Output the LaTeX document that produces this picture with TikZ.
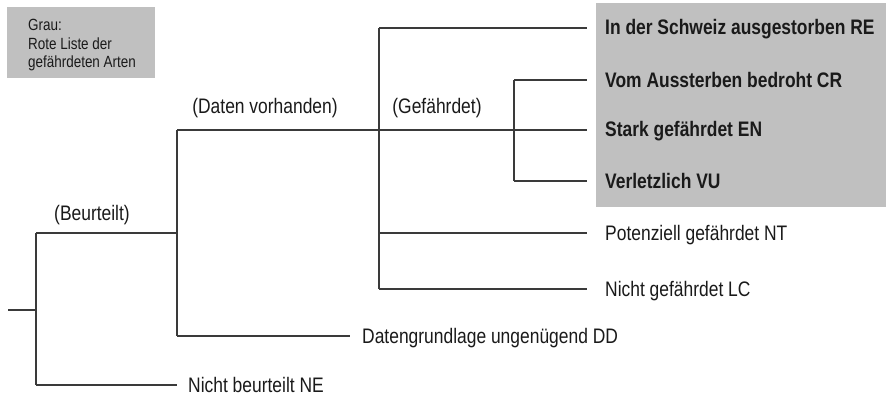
\documentclass[tikz,border=0pt]{standalone}
\usepackage{fontspec}
\setmainfont{Liberation Sans}[FakeStretch=0.83]
\definecolor{boxgray}{HTML}{C0C0C0}
\definecolor{linecol}{HTML}{3A3A3A}
\definecolor{textcol}{HTML}{1A1A1A}
\begin{document}
\begin{tikzpicture}[x=1pt,y=-1pt,
  branch/.style={draw=linecol,line width=1.1pt},
  leaf/.style={anchor=base west,inner sep=0pt,text=textcol,font=\fontsize{21}{25}\selectfont},
  leafbold/.style={leaf,font=\fontsize{21}{25}\selectfont\bfseries},
  lbl/.style={anchor=base,inner sep=0pt,text=textcol,font=\fontsize{21}{25}\selectfont},
  legtext/.style={anchor=base west,inner sep=0pt,text=textcol,font=\fontsize{16.2}{18}\selectfont},
  graybox/.style={fill=boxgray,draw=none}]
\useasboundingbox (0,0) rectangle (886,396);
% gray boxes
\fill[graybox] (7,7) rectangle (155,78);
\fill[graybox] (596,3) rectangle (886,207);
% legend
\node[legtext] (leg1) at (28,31) {Grau:};
\node[legtext] (leg2) at (28,49) {Rote Liste der};
\node[legtext] (leg3) at (28,67) {gefährdeten Arten};
% junction coordinates
\coordinate (r0) at (8,310);
\coordinate (r1) at (36,310);
\coordinate (b1) at (36,233);
\coordinate (n1) at (36,385);
\coordinate (b2) at (177,233);
\coordinate (n2) at (177,385);
\coordinate (d1) at (177,130);
\coordinate (dd1) at (177,336);
\coordinate (dd2) at (350,336);
\coordinate (g0) at (379,130);
\coordinate (re1) at (379,28);
\coordinate (nt1) at (379,233);
\coordinate (lc1) at (379,289);
\coordinate (re2) at (587,28);
\coordinate (en2) at (587,130);
\coordinate (nt2) at (587,233);
\coordinate (lc2) at (587,289);
\coordinate (cr1) at (514,80);
\coordinate (vu1) at (514,181);
\coordinate (cr2) at (587,80);
\coordinate (vu2) at (587,181);
% tree
\draw[branch] (r0) -- (r1);
\draw[branch] (b1) -- (n1);
\draw[branch] (b1) -- (b2);
\draw[branch] (n1) -- (n2);
\draw[branch] (d1) -- (dd1);
\draw[branch] (dd1) -- (dd2);
\draw[branch] (d1) -- (g0) -- (en2);
\draw[branch] (re1) -- (lc1);
\draw[branch] (re1) -- (re2);
\draw[branch] (nt1) -- (nt2);
\draw[branch] (lc1) -- (lc2);
\draw[branch] (cr1) -- (vu1);
\draw[branch] (cr1) -- (cr2);
\draw[branch] (vu1) -- (vu2);
% branch labels
\node[lbl] (beurteilt) at (92,220) {(Beurteilt)};
\node[lbl] (daten) at (265,113) {(Daten vorhanden)};
\node[lbl] (gefaehrdet) at (437,113) {(Gefährdet)};
% leaves
\node[leafbold] (RE) at (605,35) {In der Schweiz ausgestorben RE};
\node[leafbold] (CR) at (605,87) {Vom Aussterben bedroht CR};
\node[leafbold] (EN) at (605,136) {Stark gefährdet EN};
\node[leafbold] (VU) at (605,188) {Verletzlich VU};
\node[leaf] (NT) at (605,240) {Potenziell gefährdet NT};
\node[leaf] (LC) at (605,296) {Nicht gefährdet LC};
\node[leaf] (DD) at (362,343) {Datengrundlage ungenügend DD};
\node[leaf] (NE) at (188,392) {Nicht beurteilt NE};
\end{tikzpicture}
\end{document}
